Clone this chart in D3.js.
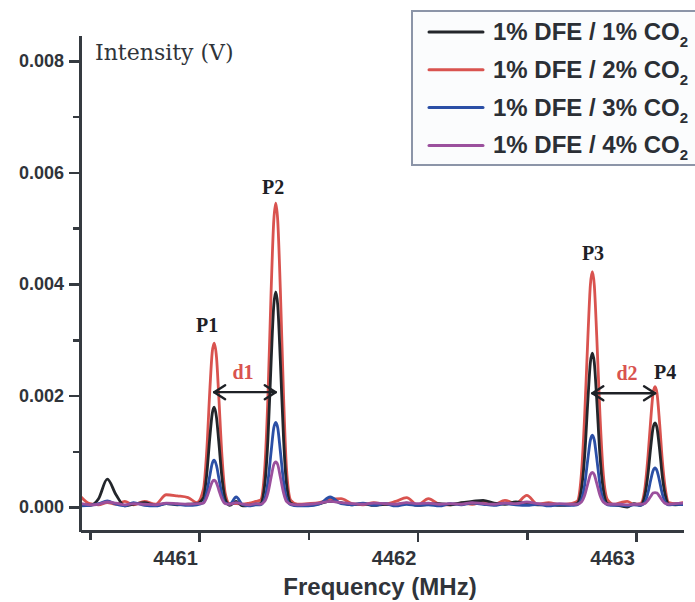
<!DOCTYPE html>
<html>
<head>
<meta charset="UTF-8">
<title>DFE / CO2 spectra</title>
<script src="https://d3js.org/d3.v7.min.js"></script>
<style>
    body { margin: 0; background: #fff; }
    .axis path, .axis line { stroke: #353a40; shape-rendering: crispEdges; }
    .axis path { stroke-width: 3; }
    .axis line { stroke-width: 2.5; }
    .axis text { font-family: "Liberation Sans", Arial, sans-serif; font-weight: bold; fill: #30343a; }
    .trace { fill: none; stroke-width: 2.8; stroke-linejoin: round; }
</style>
</head>
<body>
<script>
// frequency grid (MHz) - denser around the four peaks
var freq = [
    4460.46, 4460.50, 4460.54, 4460.58, 4460.62, 4460.66, 4460.70, 4460.75, 4460.80, 4460.85, 4460.90, 4460.95, 4460.99,
    4461.02, 4461.035, 4461.05, 4461.06, 4461.069, 4461.08, 4461.09, 4461.105, 4461.12, 4461.14,
    4461.17, 4461.20, 4461.23, 4461.26,
    4461.28, 4461.30, 4461.315, 4461.33, 4461.342, 4461.351, 4461.36, 4461.372, 4461.387, 4461.40, 4461.42, 4461.45,
    4461.50, 4461.55, 4461.60, 4461.65, 4461.70, 4461.75, 4461.80, 4461.85, 4461.90, 4461.95, 4462.00, 4462.05, 4462.10,
    4462.15, 4462.20, 4462.25, 4462.30, 4462.35, 4462.40, 4462.45, 4462.50, 4462.55, 4462.60, 4462.65, 4462.70,
    4462.73, 4462.75, 4462.765, 4462.78, 4462.791, 4462.80, 4462.809, 4462.82, 4462.835, 4462.85, 4462.87, 4462.90,
    4462.93, 4462.96, 4462.99, 4463.02,
    4463.04, 4463.055, 4463.067, 4463.078, 4463.087, 4463.096, 4463.108, 4463.12, 4463.135, 4463.15,
    4463.18, 4463.22
];

// intensities in mV, one value per frequency above
var co2_1 = [
    0.05, 0.03, 0.15, 0.50, 0.22, 0.02, 0.05, 0.08, 0.03, 0.06, 0.04, 0.05, 0.06,
    0.17, 0.58, 1.28, 1.67, 1.79, 1.60, 1.18, 0.52, 0.14, 0.03,
    0.10, 0.02, 0.03, 0.05,
    0.06, 0.38, 1.20, 2.62, 3.62, 3.86, 3.62, 2.62, 1.20, 0.42, 0.07, 0.03,
    0.03, 0.06, 0.10, 0.08, 0.04, 0.06, 0.03, 0.05, 0.04, 0.07, 0.03, 0.05, 0.06,
    0.04, 0.08, 0.10, 0.12, 0.07, 0.05, 0.09, 0.06, 0.04, 0.05, 0.03, 0.04,
    0.06, 0.32, 0.92, 1.94, 2.59, 2.76, 2.59, 1.94, 0.92, 0.32, 0.06, 0.04,
    0.02, 0.00, 0.06, 0.03,
    0.20, 0.60, 1.06, 1.42, 1.51, 1.42, 1.03, 0.56, 0.19, 0.05,
    0.04, 0.06
];
var co2_2 = [
    0.18, 0.06, 0.04, 0.08, 0.05, 0.10, 0.04, 0.10, 0.05, 0.22, 0.20, 0.17, 0.08,
    0.32, 1.00, 2.15, 2.77, 2.94, 2.68, 2.00, 0.90, 0.24, 0.06,
    0.06, 0.05, 0.07, 0.10,
    0.12, 0.66, 1.95, 3.90, 5.14, 5.45, 5.14, 3.90, 1.95, 0.70, 0.12, 0.05,
    0.06, 0.08, 0.14, 0.15, 0.06, 0.04, 0.08, 0.05, 0.10, 0.17, 0.04, 0.15, 0.05,
    0.04, 0.07, 0.05, 0.09, 0.04, 0.12, 0.06, 0.21, 0.05, 0.08, 0.04, 0.06,
    0.10, 0.60, 1.65, 3.08, 3.98, 4.22, 3.98, 3.08, 1.65, 0.60, 0.13, 0.05,
    0.08, 0.10, 0.05, 0.06,
    0.32, 0.92, 1.55, 2.04, 2.16, 2.04, 1.50, 0.85, 0.30, 0.08,
    0.06, 0.08
];
var co2_3 = [
    0.02, 0.03, 0.06, 0.11, 0.05, 0.02, 0.08, 0.03, 0.02, 0.06, 0.05, 0.03, 0.04,
    0.08, 0.26, 0.58, 0.78, 0.84, 0.74, 0.53, 0.22, 0.07, 0.05,
    0.18, 0.04, 0.02, 0.04,
    0.04, 0.14, 0.45, 1.00, 1.42, 1.52, 1.42, 1.00, 0.45, 0.16, 0.04, 0.02,
    0.02, 0.05, 0.18, 0.06, 0.04, 0.07, 0.03, 0.06, 0.02, 0.05, 0.03, 0.04, 0.02,
    0.06, 0.04, 0.07, 0.05, 0.03, 0.06, 0.04, 0.03, 0.05, 0.02, 0.04, 0.03,
    0.04, 0.13, 0.40, 0.88, 1.20, 1.29, 1.20, 0.88, 0.40, 0.13, 0.04, 0.03,
    0.03, 0.02, 0.04, 0.03,
    0.08, 0.26, 0.48, 0.65, 0.70, 0.65, 0.46, 0.24, 0.08, 0.04,
    0.05, 0.04
];
var co2_4 = [
    0.06, 0.04, 0.05, 0.09, 0.07, 0.04, 0.06, 0.05, 0.04, 0.07, 0.06, 0.05, 0.06,
    0.07, 0.17, 0.34, 0.45, 0.48, 0.43, 0.31, 0.14, 0.06, 0.05,
    0.08, 0.05, 0.04, 0.06,
    0.05, 0.10, 0.25, 0.54, 0.76, 0.81, 0.76, 0.54, 0.25, 0.10, 0.05, 0.04,
    0.05, 0.07, 0.10, 0.08, 0.06, 0.05, 0.07, 0.06, 0.05, 0.08, 0.06, 0.07, 0.05,
    0.06, 0.05, 0.08, 0.06, 0.05, 0.07, 0.06, 0.09, 0.06, 0.05, 0.06, 0.05,
    0.05, 0.09, 0.21, 0.43, 0.58, 0.62, 0.58, 0.43, 0.21, 0.09, 0.05, 0.05,
    0.05, 0.04, 0.05, 0.05,
    0.06, 0.12, 0.19, 0.25, 0.26, 0.25, 0.19, 0.12, 0.06, 0.05,
    0.06, 0.07
];

var seriesNames = ["1% DFE / 1% CO", "1% DFE / 2% CO", "1% DFE / 3% CO", "1% DFE / 4% CO"];
var seriesColors = ["#23262b", "#d9534f", "#2b4fa6", "#9b509d"];
var seriesValues = [co2_1, co2_2, co2_3, co2_4];
var drawOrder = [1, 0, 2, 3];

var yTicks = [0, 0.002, 0.004, 0.006, 0.008];
var yMinor = [0.001, 0.003, 0.005, 0.007];
var xTicks = [4461, 4462, 4463];
var xMinor = [4460.5, 4461.5, 4462.5];

// peak labels and distance markers (freq in MHz, level in mV)
var peakLabels = [
    {t: "P1", f: 4461.037, v: 3.26},
    {t: "P2", f: 4461.339, v: 5.74},
    {t: "P3", f: 4462.803, v: 4.56},
    {t: "P4", f: 4463.133, v: 2.42}
];
var gaps = [
    {t: "d1", f0: 4461.069, f1: 4461.351, v: 2.06, tf: 4461.201, tv: 2.42},
    {t: "d2", f0: 4462.800, f1: 4463.087, v: 2.04, tf: 4462.959, tv: 2.40}
];

var W = 695, H = 602;
var svg = d3.select("body").append("svg")
    .attr("width", W)
    .attr("height", H);

var x = d3.scaleLinear().domain([4460.455, 4463.215]).range([80, 683]);
var y = d3.scaleLinear().domain([-0.00043, 0.008466]).range([531, 35]);

svg.append("defs").append("clipPath").attr("id", "plotclip")
    .append("rect").attr("x", 81).attr("y", 35).attr("width", 602).attr("height", 494);

// traces
var line = d3.line()
    .x(function (d) { return x(d[0]); })
    .y(function (d) { return y(d[1] / 1000); })
    .curve(d3.curveMonotoneX);

var plot = svg.append("g").attr("clip-path", "url(#plotclip)");
drawOrder.forEach(function (i) {
    var pts = freq.map(function (f, k) { return [f, seriesValues[i][k]]; });
    plot.append("path")
        .attr("class", "trace")
        .attr("stroke", seriesColors[i])
        .attr("d", line(pts));
});

// axes
var yAxis = svg.append("g").attr("class", "axis")
    .attr("transform", "translate(80,0)")
    .call(d3.axisLeft(y).tickValues(yTicks).tickFormat(d3.format(".3f")).tickSize(11).tickSizeOuter(0).tickPadding(5));
yAxis.selectAll("text").style("font-size", "18px");
svg.append("g").attr("class", "axis")
    .attr("transform", "translate(80,0)")
    .call(d3.axisLeft(y).tickValues(yMinor).tickFormat("").tickSize(7).tickSizeOuter(0))
    .select(".domain").remove();

var xAxis = svg.append("g").attr("class", "axis")
    .attr("transform", "translate(0,531)")
    .call(d3.axisBottom(x).tickValues(xTicks).tickFormat(d3.format("d")).tickSize(11).tickSizeOuter(0).tickPadding(9));
xAxis.selectAll("text").style("font-size", "20px").attr("dx", -24);
svg.append("g").attr("class", "axis")
    .attr("transform", "translate(0,531)")
    .call(d3.axisBottom(x).tickValues(xMinor).tickFormat("").tickSize(9).tickSizeOuter(0))
    .select(".domain").remove();

svg.append("text")
    .attr("x", 380).attr("y", 595)
    .attr("text-anchor", "middle")
    .style("font-family", "Liberation Sans, Arial, sans-serif")
    .style("font-size", "24px")
    .style("font-weight", "bold")
    .style("fill", "#30343a")
    .text("Frequency (MHz)");

svg.append("text")
    .attr("x", 95).attr("y", 60)
    .style("font-family", "DejaVu Serif, serif")
    .style("font-size", "22px")
    .style("fill", "#30343a")
    .text("Intensity (V)");

// annotations
svg.selectAll(".plab").data(peakLabels).enter().append("text")
    .attr("class", "plab")
    .attr("x", function (d) { return x(d.f); })
    .attr("y", function (d) { return y(d.v / 1000); })
    .attr("dy", "0.35em")
    .attr("text-anchor", "middle")
    .style("font-family", "Liberation Serif, serif")
    .style("font-weight", "bold")
    .style("font-size", "20px")
    .style("fill", "#1e2126")
    .text(function (d) { return d.t; });

gaps.forEach(function (g) {
    var x0 = x(g.f0), x1 = x(g.f1), yy = y(g.v / 1000);
    var a = svg.append("g").attr("fill", "none").attr("stroke", "#1e2126")
        .attr("stroke-width", 2.4).attr("stroke-linecap", "round").attr("stroke-linejoin", "round");
    a.append("line").attr("x1", x0).attr("x2", x1).attr("y1", yy).attr("y2", yy);
    a.append("path").attr("d", "M" + (x0 + 11) + "," + (yy - 7) + "L" + x0 + "," + yy + "L" + (x0 + 11) + "," + (yy + 7));
    a.append("path").attr("d", "M" + (x1 - 11) + "," + (yy - 7) + "L" + x1 + "," + yy + "L" + (x1 - 11) + "," + (yy + 7));
    svg.append("text")
        .attr("x", x(g.tf)).attr("y", y(g.tv / 1000))
        .attr("dy", "0.35em")
        .attr("text-anchor", "middle")
        .style("font-family", "Liberation Serif, serif")
        .style("font-weight", "bold")
        .style("font-size", "20px")
        .style("fill", "#d9534f")
        .text(g.t);
});

// legend
var legend = svg.append("g");
legend.append("rect")
    .attr("x", 412).attr("y", 11)
    .attr("width", 300).attr("height", 154)
    .attr("fill", "#fbfcfd")
    .attr("stroke", "#8c95a8")
    .attr("stroke-width", 2);

seriesNames.forEach(function (name, i) {
    var ly = 32 + i * 37.8;
    legend.append("line")
        .attr("x1", 429).attr("x2", 483)
        .attr("y1", ly).attr("y2", ly)
        .attr("stroke", seriesColors[i])
        .attr("stroke-width", 3)
        .attr("stroke-linecap", "round");
    var t = legend.append("text")
        .attr("x", 493).attr("y", ly + 8)
        .style("font-family", "Liberation Sans, Arial, sans-serif")
        .style("font-size", "24px")
        .style("font-weight", "bold")
        .style("fill", "#2b2f35")
        .text(name);
    t.append("tspan")
        .attr("dy", 7)
        .style("font-size", "15px")
        .text("2");
});
</script>
</body>
</html>
